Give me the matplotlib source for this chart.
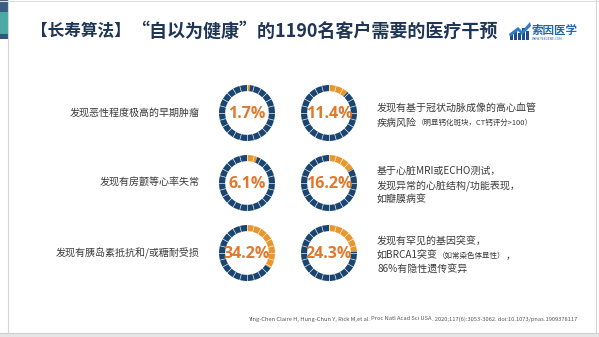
import matplotlib
matplotlib.use("Agg")
import matplotlib.pyplot as plt
import matplotlib.transforms as mtrans
import numpy as np
from matplotlib.patches import Rectangle, Polygon

plt.rcParams['font.family'] = ['Noto Sans CJK SC', 'DejaVu Sans']

W, H = 599, 337

# ---------------- data ----------------
left_values = [1.7, 6.1, 34.2]
right_values = [11.4, 16.2, 24.3]
left_labels = ["发现恶性程度极高的早期肿瘤", "发现有房颤等心率失常", "发现有胰岛素抵抗和/或糖耐受损"]
right_line1 = ["发现有基于冠状动脉成像的高心血管", "疾病风险"]
right_note1 = "（明显钙化斑块，CT钙评分>100）"
right_lines2 = ["基于心脏MRI或ECHO测试，", "发现异常的心脏结构/功能表现，", "如瓣膜病变"]
right_lines3 = ["发现有罕见的基因突变，", "如BRCA1突变", "，", "86%有隐性遗传变异"]
right_note3 = "（如常染色体显性）"
title_a = "【长寿算法】"
title_b = "“自以为健康”的1190名客户需要的医疗干预"
citation = ("Ying-Chen Claire H, Hung-Chun Y, Rick M,et al. ", "Proc Natl Acad Sci USA",
            ". 2020;117(6):3053-3062. doi:10.1073/pnas.1909378117")

NAVY = "#1a4570"
ORANGE = "#e8962e"
PCT = "#e2782b"
TXT = "#3a3a3a"
TITLE = "#1f3556"
FS = 7.2
FS_SMALL = 5.4

fig = plt.figure(figsize=(W / 100, H / 100), dpi=100)
fig.patch.set_facecolor("white")
ax = fig.add_axes([0, 0, 1, 1])
ax.set_xlim(0, W)
ax.set_ylim(H, 0)
ax.axis("off")
tr = mtrans.blended_transform_factory(mtrans.IdentityTransform(), ax.transData)

# slide frame
ax.add_patch(Rectangle((0, 333), W, 4, color="#e6e6e6", lw=0))
ax.plot([8, 8], [0, 333], color="#d5d5d5", lw=0.8)
ax.plot([596, 596], [0, 333], color="#d5d5d5", lw=0.8)
ax.plot([0, W], [0.5, 0.5], color="#dddddd", lw=0.8)
ax.plot([0, W], [333, 333], color="#cfcfcf", lw=0.8)
# left decoration strip
ax.add_patch(Rectangle((0, 0), 8, 12, color="#3c5d82", lw=0))
ax.add_patch(Rectangle((0, 12), 8, 22, color="#4ba8a2", lw=0))
ax.add_patch(Rectangle((0, 34), 8, 5, color="#34557a", lw=0))

# title
ax.text(31, 31, title_a, fontsize=12, fontweight="bold", color=TITLE, va="center", ha="left")
ax.text(131, 31, title_b, fontsize=13, fontweight="bold", color=TITLE, va="center", ha="left")

# logo
for bx, bh in [(510, 6), (514, 10), (518, 7), (522, 12), (526, 9)]:
    ax.add_patch(Rectangle((bx, 40 - bh), 3, bh, color="#1f4f8a", lw=0))
ax.add_patch(Polygon([(509, 34), (518, 27), (522, 31), (530, 22), (531, 26), (522, 35), (518, 31), (510, 37)],
                     closed=True, color="#2f7dc4", lw=0))
ax.text(532, 30, "索因医学", fontsize=8.3, fontweight="bold", color="#2566ad", va="center", ha="left")
ax.text(532, 38.5, "WWW.YEEGENE.COM", fontsize=2.3, color="#2566ad", va="center", ha="left")

# rings
R_OUT = 28.0
def ring(cx, cy, v):
    size = 62
    a = fig.add_axes([(cx - size / 2) / W, (H - cy - size / 2) / H, size / W, size / H])
    a.pie([v, 100 - v], colors=[ORANGE, NAVY], startangle=90, counterclock=False,
          radius=1.0, wedgeprops=dict(width=0.22, linewidth=0))
    n = 24
    for k in range(n):
        th = np.deg2rad(90 - k * 360 / n)
        a.plot([0.76 * np.cos(th), 1.02 * np.cos(th)], [0.76 * np.sin(th), 1.02 * np.sin(th)],
               color="white", lw=0.45, solid_capstyle="butt")
    lim = (size / 2) / R_OUT
    a.set_xlim(-lim, lim)
    a.set_ylim(-lim, lim)
    a.set_aspect("equal")
    a.axis("off")
    a.text(0, -0.02, f"{v}%", fontsize=11.5, fontweight="bold", color=PCT, ha="center", va="center",
           family=["Open Sans", "DejaVu Sans"])

row_y = [113, 183, 253]
for y, v in zip(row_y, left_values):
    ring(247, y, v)
for y, v in zip(row_y, right_values):
    ring(329, y, v)

# left labels
for y, lab in zip(row_y, left_labels):
    ax.text(200, y, lab, fontsize=FS, color=TXT, ha="right", va="center")

def after(t, s, y, fs):
    fig.canvas.draw()
    bb = t.get_window_extent()
    return ax.text(bb.x1, y, s, fontsize=fs, color=TXT, ha="left", va="center", transform=tr)

# right labels
ax.text(377, 109, right_line1[0], fontsize=FS, color=TXT, ha="left", va="center")
t = ax.text(377, 123, right_line1[1], fontsize=FS, color=TXT, ha="left", va="center")
after(t, right_note1, 123, FS_SMALL)

for yy, s in zip([171, 186, 200], right_lines2):
    ax.text(377, yy, s, fontsize=FS, color=TXT, ha="left", va="center")

ax.text(377, 242, right_lines3[0], fontsize=FS, color=TXT, ha="left", va="center")
t = ax.text(377, 256, right_lines3[1], fontsize=FS, color=TXT, ha="left", va="center")
t2 = after(t, right_note3, 256, FS_SMALL)
after(t2, right_lines3[2], 256, FS)
ax.text(377, 270, right_lines3[3], fontsize=FS, color=TXT, ha="left", va="center")

# citation
CFS = 4.15
c1 = ax.text(248, 319, citation[0], fontsize=CFS, color="#555555", ha="left", va="center")
fig.canvas.draw()
b = c1.get_window_extent()
c2 = ax.text(b.x1, 319, citation[1], fontsize=CFS, color="#555555", ha="left", va="center", style="italic", transform=tr)
fig.canvas.draw()
b = c2.get_window_extent()
ax.text(b.x1, 319, citation[2], fontsize=CFS, color="#555555", ha="left", va="center", transform=tr)

fig.savefig("out.png", dpi=100, facecolor=fig.get_facecolor())
